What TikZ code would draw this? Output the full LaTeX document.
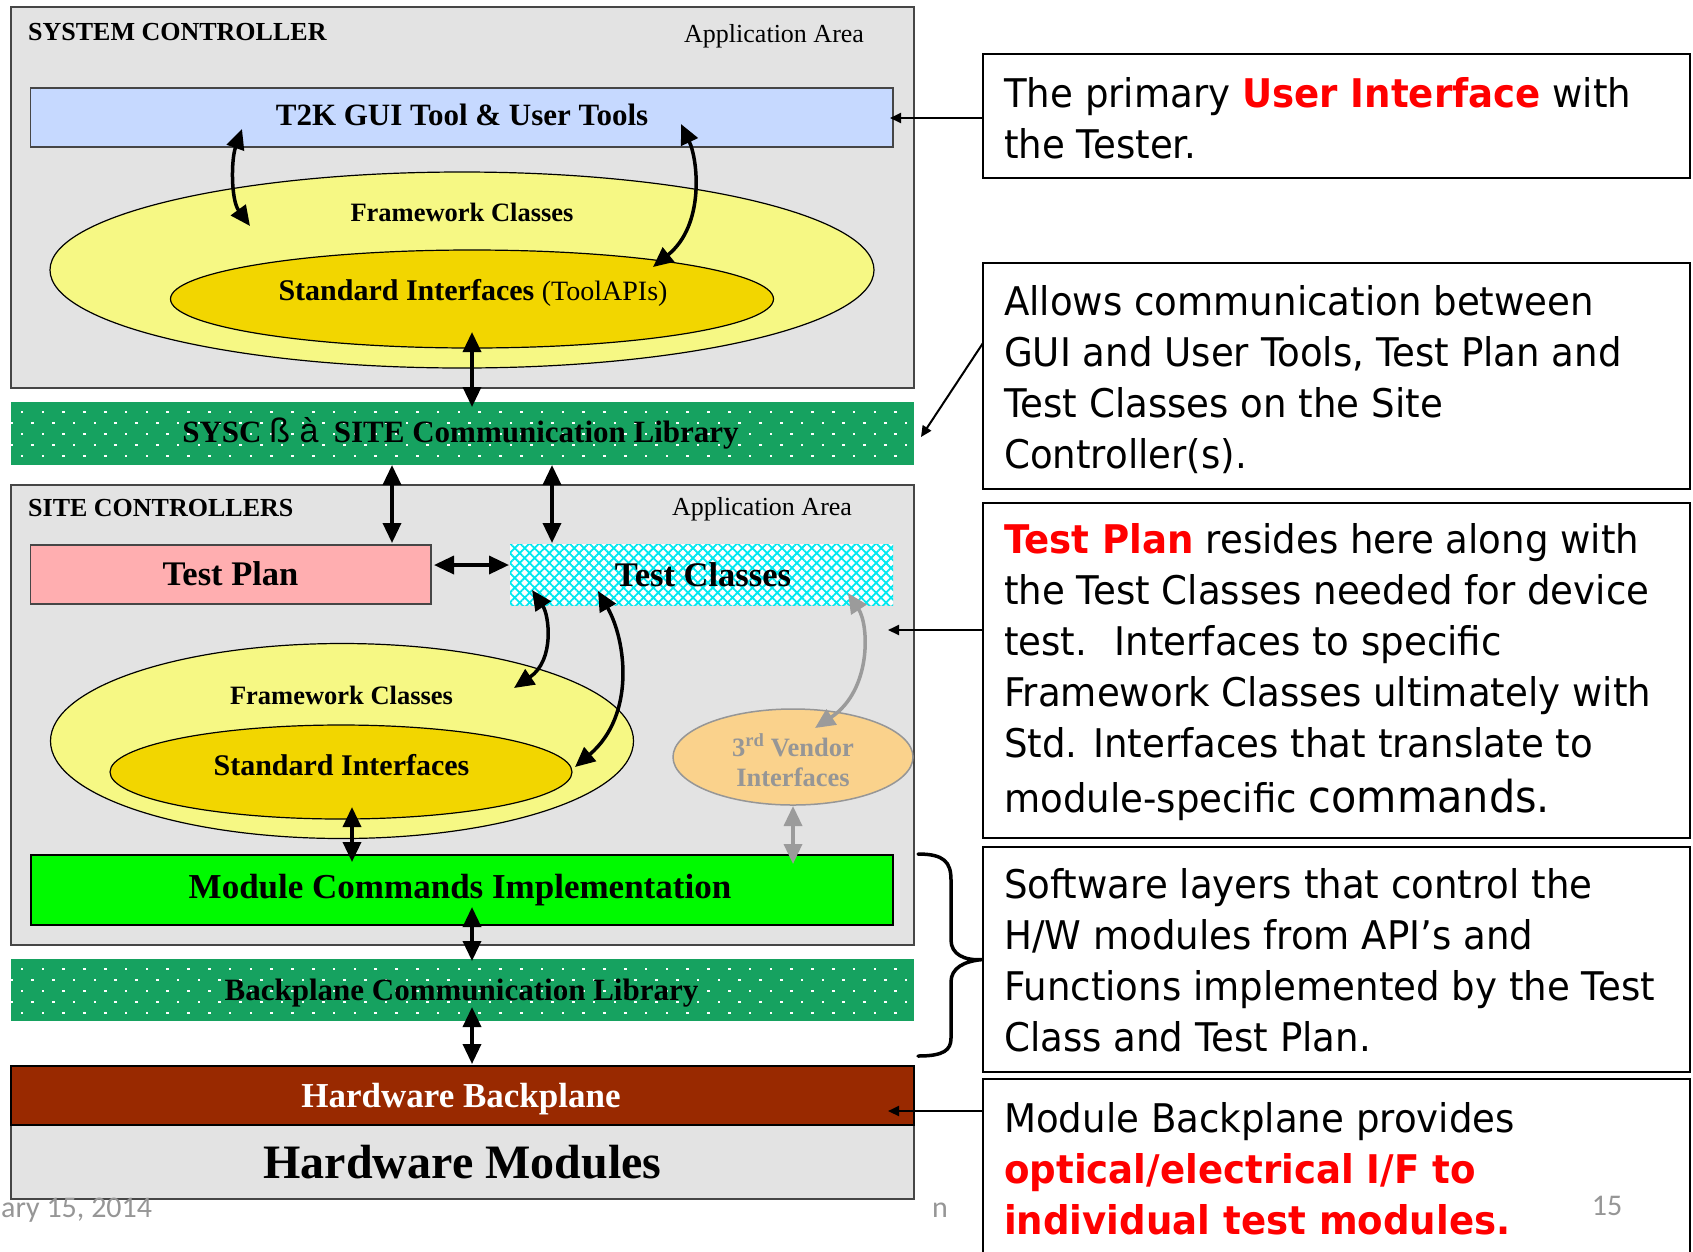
\documentclass[tikz,border=0pt]{standalone}
\usepackage{fontspec}
\setmainfont{Liberation Serif}
\newfontfamily\notefam[FakeStretch=0.94]{DejaVu Sans}
\newfontfamily\glyphfam{Liberation Sans}
\newfontfamily\footfam{Carlito}
\usetikzlibrary{arrows.meta,shapes.geometric,patterns.meta}

\definecolor{panelgray}{RGB}{227,227,227}
\definecolor{panelline}{RGB}{70,70,70}
\definecolor{guiblue}{RGB}{198,217,255}
\definecolor{fwyellow}{RGB}{246,248,132}
\definecolor{sigold}{RGB}{242,214,0}
\definecolor{libgreen}{RGB}{22,162,96}
\definecolor{planpink}{RGB}{255,174,176}
\definecolor{hatchcyan}{RGB}{0,232,240}
\definecolor{modgreen}{RGB}{0,250,0}
\definecolor{bpbrown}{RGB}{153,41,0}
\definecolor{vendorfill}{RGB}{250,210,140}
\definecolor{vendorgray}{RGB}{150,150,150}
\definecolor{arrowgray}{RGB}{155,155,155}
\definecolor{notered}{RGB}{255,0,0}
\definecolor{footgray}{RGB}{150,150,150}

% white dot lattice on a communication-library bar whose top edge is at #1
\newcommand\libdots[1]{%
  \begin{scope}
    \clip (11,#1) rectangle (914,#1+63);
    \foreach \r/\xo in {0/22,1/11.6,2/22,3/11.6,4/22}
      \foreach \c in {0,...,43}
        \fill[white] ({\xo+20.8*\c-1.3},{#1+10+11*\r-1.3}) rectangle ++(2.6,2.6);
  \end{scope}}

\begin{document}
\begin{tikzpicture}[x=1pt, y=-1pt,
  box/.style={rectangle, inner sep=0pt, outer sep=0pt, anchor=north west},
  panel/.style={box, fill=panelgray, draw=panelline, line width=1.5pt, minimum width=903pt},
  oval/.style={ellipse, inner sep=0pt, outer sep=0pt, draw=black, line width=1.2pt},
  lbl/.style={inner sep=0pt, anchor=base},
  dbl/.style={{Triangle[length=20pt,width=18pt]}-{Triangle[length=20pt,width=18pt]}, line width=3.5pt},
  dblgray/.style={dbl, draw=arrowgray},
  callout/.style={-{Triangle[length=11pt,width=10pt]}, line width=2pt},
  note/.style={inner sep=0pt, anchor=base west, font=\notefam\fontsize{39.5}{51}\selectfont},
  notebox/.style={box, draw=black, line width=2pt, minimum width=707pt},
  foot/.style={inner sep=0pt, font=\footfam\fontsize{30}{36}\selectfont, text=footgray},
]
\useasboundingbox (0,0) rectangle (1693,1251);
\clip (0,0) rectangle (1693,1251);
\fill[white] (0,0) rectangle (1693,1251);

% ---------------- system controller ----------------
\node[panel, minimum height=381pt] (syspanel) at (11,7) {};
\node[lbl, anchor=base west, font=\fontsize{26}{30}\selectfont\bfseries] (sysname) at (28,40) {SYSTEM CONTROLLER};
\node[lbl, anchor=base west, font=\fontsize{26}{30}\selectfont] (sysarea) at (684,42) {Application Area};

\node[box, fill=guiblue, draw=panelline, line width=1.5pt, minimum width=862.5pt, minimum height=59pt] (gui) at (30.5,88) {};
\node[lbl, font=\fontsize{31}{36}\selectfont\bfseries] (guitext) at (462,125) {T2K GUI Tool \& User Tools};

\node[oval, fill=fwyellow, minimum width=824pt, minimum height=196pt] (fwtop) at (462,270) {};
\node[oval, fill=sigold, minimum width=603pt, minimum height=98pt] (sitop) at (472,299) {};
\node[lbl, font=\fontsize{26.5}{30}\selectfont\bfseries] (fwtoptext) at (462,221) {Framework Classes};
\node[lbl, font=\fontsize{30}{34}\selectfont\bfseries] (sitoptext) at (473,300)
  {Standard Interfaces {\mdseries\fontsize{28}{34}\selectfont(ToolAPIs)}};

% ---------------- system / site library ----------------
\node[box, fill=libgreen, minimum width=903pt, minimum height=63pt] (sysc) at (11,402) {};
\libdots{402}
\node[lbl, font=\fontsize{31}{36}\selectfont\bfseries] (sysctext) at (460.5,442)
  {SYSC {\glyphfam\mdseries\fontsize{34}{36}\selectfont ß à}\ \ SITE Communication Library};

% ---------------- site controllers ----------------
\node[panel, minimum height=460pt] (sitepanel) at (11,485) {};
\node[lbl, anchor=base west, font=\fontsize{26}{30}\selectfont\bfseries] (sitename) at (28,516) {SITE CONTROLLERS};
\node[lbl, anchor=base west, font=\fontsize{26}{30}\selectfont] (sitearea) at (672,515) {Application Area};

\node[box, fill=planpink, draw=panelline, line width=1.5pt, minimum width=400.5pt, minimum height=59pt] (plan) at (30.5,545) {};
\node[lbl, font=\fontsize{34.5}{40}\selectfont\bfseries] (plantext) at (230.5,585) {Test Plan};

\node[box, preaction={fill=white}, pattern={Hatch[angle=45,distance=7pt,line width=1.8pt]}, pattern color=hatchcyan,
      minimum width=383pt, minimum height=61pt] (classes) at (510,544) {};
\node[lbl, font=\fontsize{34.5}{40}\selectfont\bfseries] (classtext) at (703,586) {Test Classes};

\node[oval, fill=fwyellow, minimum width=583pt, minimum height=195pt] (fwsite) at (342,741) {};
\node[oval, fill=sigold, minimum width=462pt, minimum height=94pt] (sisite) at (341,772) {};
\node[lbl, font=\fontsize{26.5}{30}\selectfont\bfseries] (fwsitetext) at (341.5,704) {Framework Classes};
\node[lbl, font=\fontsize{30}{34}\selectfont\bfseries] (sisitetext) at (341.5,775) {Standard Interfaces};

\node[ellipse, inner sep=0pt, fill=vendorfill, draw=vendorgray, line width=1.5pt, minimum width=240pt, minimum height=96pt] (vendor) at (793,757) {};
\node[lbl, font=\fontsize{26.5}{30}\selectfont\bfseries, text=vendorgray] (vendtexta) at (793,756) {3\textsuperscript{rd} Vendor};
\node[lbl, font=\fontsize{26.5}{30}\selectfont\bfseries, text=vendorgray] (vendtextb) at (793,786) {Interfaces};

\node[box, fill=modgreen, draw=black, line width=2pt, minimum width=862.5pt, minimum height=70pt] (module) at (30.5,855) {};
\node[lbl, font=\fontsize{35}{40}\selectfont\bfseries] (moduletext) at (460,898) {Module Commands Implementation};

% ---------------- backplane ----------------
\node[box, fill=libgreen, minimum width=903pt, minimum height=62pt] (bplib) at (11,959) {};
\libdots{959}
\node[lbl, font=\fontsize{31}{36}\selectfont\bfseries] (bplibtext) at (461.5,1000) {Backplane Communication Library};

\node[box, fill=panelgray, draw=panelline, line width=1.5pt, minimum width=903pt, minimum height=74pt] (hwmod) at (11,1125) {};
\node[box, fill=bpbrown, draw=black, line width=1.5pt, minimum width=903pt, minimum height=59pt] (hwbp) at (11,1066) {};
\node[lbl, font=\fontsize{35}{40}\selectfont\bfseries, text=white] (hwbptext) at (461,1107) {Hardware Backplane};
\node[lbl, font=\fontsize{48}{54}\selectfont\bfseries] (hwmodtext) at (462.5,1178) {Hardware Modules};

% ---------------- arrow end points ----------------
\coordinate (guiL) at (242,129);   \coordinate (fwL) at (250,226);
\coordinate (guiR) at (681,124);   \coordinate (siR) at (653,267);
\coordinate (siDown) at (472,332); \coordinate (syscUp) at (472,407);
\coordinate (syscA) at (392,465);  \coordinate (planTop) at (392,543);
\coordinate (syscB) at (552,465);  \coordinate (classTop) at (552,543);
\coordinate (planEast) at (434,565); \coordinate (classWest) at (509,565);
\coordinate (classA) at (532,590); \coordinate (fwSiteA) at (514,688);
\coordinate (classB) at (598,591); \coordinate (siSiteB) at (575,767);
\coordinate (classC) at (848,593); \coordinate (vendTop) at (815,728);
\coordinate (siSiteDown) at (352,807); \coordinate (modTopA) at (352,862);
\coordinate (vendDown) at (793,806); \coordinate (modTopB) at (793,864);
\coordinate (modDown) at (472,907); \coordinate (bplibTop) at (472,961);
\coordinate (bplibDown) at (472,1007); \coordinate (hwbpTop) at (472,1064);

% ---------------- arrows ----------------
\draw[dbl] (guiL) .. controls (231,160) and (231,200) .. (fwL);
\draw[dbl] (guiR) .. controls (698,160) and (705,225) .. (siR);
\draw[dbl] (siDown) -- (syscUp);
\draw[dbl] (syscA) -- (planTop);
\draw[dbl] (syscB) -- (classTop);
\draw[dbl] (planEast) -- (classWest);
\draw[dbl] (classA) .. controls (549,615) and (555,660) .. (fwSiteA);
\draw[dbl] (classB) .. controls (626,640) and (636,715) .. (siSiteB);
\draw[dblgray] (classC) .. controls (869,625) and (872,690) .. (vendTop);
\draw[dbl] (siSiteDown) -- (modTopA);
\draw[dblgray] (vendDown) -- (modTopB);
\draw[dbl] (modDown) -- (bplibTop);
\draw[dbl] (bplibDown) -- (hwbpTop);

% ---------------- explanatory notes ----------------
\node[notebox, minimum height=124pt] (box1) at (983,54) {};
\node[note] (note1) at (1004,107) {\vtop{%
  \hbox{The primary {\color{notered}\bfseries User Interface} with}
  \hbox{the Tester.}}};

\node[notebox, minimum height=226pt] (box2) at (983,263) {};
\node[note] (note2) at (1004,315) {\vtop{%
  \hbox{Allows communication between}
  \hbox{GUI and User Tools, Test Plan and}
  \hbox{Test Classes on the Site}
  \hbox{Controller(s).}}};

\node[notebox, minimum height=335pt] (box3) at (983,503) {};
\node[note] (note3) at (1004,553) {\vtop{%
  \hbox{{\color{notered}\bfseries Test Plan} resides here along with}
  \hbox{the Test Classes needed for device}
  \hbox{test.~ Interfaces to specific}
  \hbox{Framework Classes ultimately with}
  \hbox{Std. Interfaces that translate to}
  \vskip 4pt
  \hbox{module-specific {\fontsize{44}{51}\selectfont commands.}}}};

\node[notebox, minimum height=225pt] (box4) at (983,847) {};
\node[note] (note4) at (1004,898) {\vtop{%
  \hbox{Software layers that control the}
  \hbox{H/W modules from API’s and}
  \hbox{Functions implemented by the Test}
  \hbox{Class and Test Plan.}}};

\node[notebox, minimum height=186pt] (box5) at (983,1079) {};
\node[note] (note5) at (1004,1132) {\vtop{%
  \hbox{Module Backplane provides}
  \hbox{\color{notered}\bfseries optical/electrical I/F to}
  \hbox{\color{notered}\bfseries individual test modules.}}};

% callout connectors
\coordinate (guiHit) at (890,118);
\coordinate (syscHit) at (921,437);
\coordinate (siteHit) at (888,630);
\coordinate (hwbpHit) at (888,1111);
\draw[callout] ([yshift=-2pt]box1.west) -- (guiHit);
\draw[callout] ([yshift=33pt]box2.west) -- (syscHit);
\draw[callout] ([yshift=40.5pt]box3.west) -- (siteHit);
\draw[callout] ([yshift=61pt]box5.west) -- (hwbpHit);

% brace grouping the software layers
\draw[line width=3.5pt, line cap=round]
  (918,854) .. controls (944,854) and (951,862) .. (951,880) -- (951,940)
  .. controls (951,954) and (964,961) .. (box4.west)
  .. controls (964,961) and (951,968) .. (951,982) -- (951,1038)
  .. controls (951,1050) and (944,1056) .. (918,1056);

% slide footer remnants
\node[foot, anchor=base west] (footdate) at (1,1217) {ary 15, 2014};
\node[foot, anchor=base] (foottitle) at (940,1217) {n};
\node[foot, anchor=base] (footpage) at (1607,1215) {15};
\end{tikzpicture}
\end{document}
